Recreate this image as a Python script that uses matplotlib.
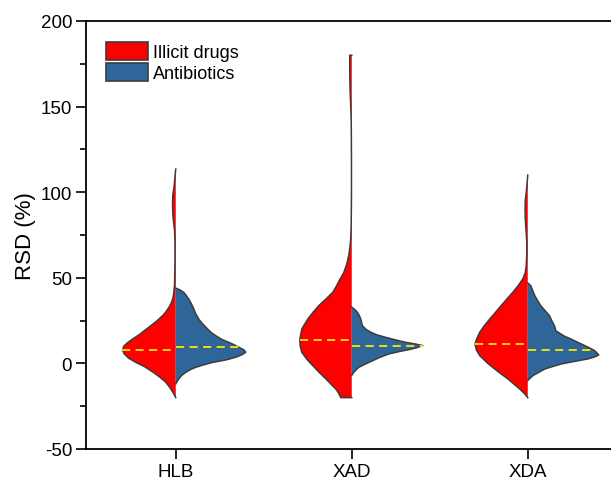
import numpy as np
import matplotlib
matplotlib.use("Agg")
from matplotlib import pyplot as plt
from matplotlib.patches import Patch
from matplotlib.ticker import MultipleLocator

plt.rcParams['font.family'] = ['Liberation Sans', 'DejaVu Sans']
plt.rcParams['axes.unicode_minus'] = False

# categories and group names
categories = ["HLB", "XAD", "XDA"]
groups = ["Illicit drugs", "Antibiotics"]

# violin outlines: RSD levels (%) and half-width density (relative)
hlb_drug_y = [-20, -17, -14, -11, -8, -5, -2, 0.6, 3, 5.5, 7.8, 10, 12, 14.3, 17, 20, 22, 25, 28,
              30, 33, 36, 39, 42, 46, 52, 60, 70, 78, 84, 88, 93, 98, 104, 109, 113.5]
hlb_drug_d = [0, 2.7, 6, 10, 16, 23, 31, 40, 47, 51.5, 53.3, 52, 48.5, 43, 36, 29.5, 25, 18.5, 13,
              10, 6.5, 4, 2.5, 1.8, 1.2, 1, 0.8, 0.8, 1.2, 2.5, 3, 3.2, 3, 1.5, 0.8, 0]
hlb_anti_y = [-12, -9, -7, -5.2, -3.5, -2.3, -1, 0.6, 2, 3.6, 5, 6.5, 8, 9.4, 11, 12.3, 14, 16.2,
              18, 20, 23, 25.9, 29, 31.8, 35, 37.6, 40, 41.5, 43, 44]
hlb_anti_d = [0, 3, 6, 10, 15, 20, 27, 37, 50, 60, 66, 70, 68, 63, 58, 53, 46, 40,
              35.5, 32, 27, 23, 20, 18, 15.5, 13, 10, 8, 4, 0]

xad_drug_y = [-20, -17, -15, -12, -9, -5, -1.3, 2.5, 6.5, 10, 13.7, 17, 20, 23, 25.9, 30, 33.7,
              37.5, 41.5, 45.5, 49.3, 53, 58, 63, 68, 73, 80, 90, 100, 120, 140, 150, 160, 170,
              175, 180]
xad_drug_d = [11, 13.5, 16, 21, 26, 33, 39, 45, 50, 51.5, 52, 51, 50, 47, 44, 38.5, 33,
              26, 19, 15, 11.7, 8, 5, 3, 1.8, 1, 0.6, 0.4, 0.3, 0.3, 0.5, 1, 1.7, 2,
              2, 2]
xad_anti_y = [-7, -5.2, -2.3, 0, 1.6, 3.5, 5.5, 7, 8, 9.2, 10.4, 11.4, 12.3, 13.7, 15.2, 16.7,
              18.2, 20, 22, 24, 25.9, 28, 29.8, 31.5, 32.8]
xad_anti_d = [0, 2, 7, 15, 21, 28, 37, 48, 57, 65, 71, 63, 54, 44, 34, 25,
              19, 14, 10.7, 9.8, 9, 7.5, 5.7, 3, 0]

xda_drug_y = [-20, -17.5, -15, -12, -9, -6, -3.3, 0, 4.5, 8, 11.3, 14.5, 18.2, 22, 25.9, 30, 33.7,
              37.5, 41.5, 45.5, 49.3, 53, 57, 64, 71, 76, 80, 85, 90, 95, 100, 105, 110]
xda_drug_d = [0, 3.5, 8, 14, 20, 27, 33, 40, 48, 51.5, 52.7, 51, 48, 43.5, 38, 32, 26.7,
              21, 15, 9.5, 5, 2.5, 1.5, 1, 1, 1.5, 2, 2.5, 2.7, 2.5, 1.5, 0.7, 0]
xda_anti_y = [-10, -7.2, -5.2, -3.3, -1.8, -0.4, 1.2, 2.6, 3.8, 4.9, 6.2, 7.4, 9, 10.4, 12.3, 14.3,
              15.8, 17.2, 19.1, 20.5, 22, 25, 27.9, 31, 33.7, 36.5, 39.6, 42.5, 45.4, 47]
xda_anti_d = [0, 5, 11, 17, 25, 33, 47, 60, 67, 71, 69, 67, 62, 57, 50, 43,
              37, 33, 28, 27.5, 26.7, 24, 21.7, 17, 13, 10, 7, 5, 3, 0]

# medians (%)
drug_median = [7.8, 13.7, 11.3]
anti_median = [9.8, 10.4, 8.0]

drug_shapes = [(hlb_drug_y, hlb_drug_d), (xad_drug_y, xad_drug_d), (xda_drug_y, xda_drug_d)]
anti_shapes = [(hlb_anti_y, hlb_anti_d), (xad_anti_y, xad_anti_d), (xda_anti_y, xda_anti_d)]

red = "#ff0000"
blue = "#2f6699"
edge = "#3c3c3c"
yellow = "#ffe800"
dens_scale = 1 / 176.0

fig = plt.figure(figsize=(6.11, 4.81), dpi=100)
ax = fig.add_axes([86 / 611, 31 / 481, (3.5 - 0.49) * 176 / 611, 428 / 481])

for i in range(len(categories)):
    x0 = i + 1
    # left half: illicit drugs
    y, d = drug_shapes[i]
    y = np.array(y); w = np.array(d) * dens_scale
    ax.fill_betweenx(y, x0 - w, x0, facecolor=red, edgecolor="none", zorder=2)
    ax.plot(np.r_[x0, x0 - w, x0], np.r_[y[0], y, y[-1]], color=edge, lw=1.1, zorder=3,
            solid_joinstyle="round")
    wm = np.interp(drug_median[i], y, w)
    ax.plot([x0 - wm, x0], [drug_median[i]] * 2, color=yellow, lw=1.3, ls=(0, (4.5, 3)), zorder=4)

    # right half: antibiotics
    y, d = anti_shapes[i]
    y = np.array(y); w = np.array(d) * dens_scale
    ax.fill_betweenx(y, x0, x0 + w, facecolor=blue, edgecolor="none", zorder=2)
    ax.plot(x0 + w, y, color=edge, lw=1.1, zorder=3, solid_joinstyle="round")
    wm = np.interp(anti_median[i], y, w)
    ax.plot([x0, x0 + wm], [anti_median[i]] * 2, color=yellow, lw=1.3, ls=(0, (4.5, 3)), zorder=4)

ax.set_xlim(0.49, 3.5)
ax.set_ylim(-50, 200)
ax.set_xticks([1, 2, 3])
ax.set_xticklabels(categories)
ax.yaxis.set_major_locator(MultipleLocator(50))
ax.yaxis.set_minor_locator(MultipleLocator(25))
ax.tick_params(axis="both", which="major", direction="out", length=7, width=1.2, labelsize=13.5)
ax.tick_params(axis="y", which="minor", direction="out", length=4, width=1.2)
ax.tick_params(axis="x", which="major", pad=3)
ax.tick_params(axis="y", which="major", pad=3)
for s in ax.spines.values():
    s.set_linewidth(1.3)
ax.set_ylabel("RSD (%)", fontsize=16, labelpad=3)

handles = [Patch(facecolor=red, edgecolor=edge, lw=1.2), Patch(facecolor=blue, edgecolor=edge, lw=1.2)]
ax.legend(handles, groups, loc="upper left", bbox_to_anchor=(106 / 611, 1 - 43 / 481),
          bbox_transform=fig.transFigure, frameon=False, fontsize=13, borderaxespad=0,
          borderpad=0, handlelength=2.3, handleheight=1.15, handletextpad=0.3, labelspacing=0.1)

fig.savefig("out.png", dpi=100)
